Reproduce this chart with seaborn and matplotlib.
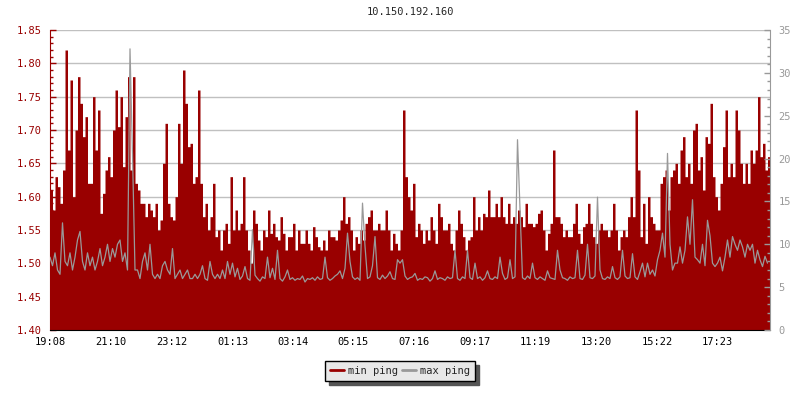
import numpy as np
import pandas as pd
import seaborn as sns
import matplotlib.pyplot as plt
from matplotlib.lines import Line2D
from matplotlib.ticker import MultipleLocator

sns.set_style("white")
plt.rcParams["font.family"] = ["DejaVu Sans Mono"]

title = "10.150.192.160"
start_time = "19:08"
step_minutes = 5
tick_labels = ["19:08", "21:10", "23:12", "01:13", "03:14", "05:15",
               "07:16", "09:17", "11:19", "13:20", "15:22", "17:23"]

# min ping (left axis), one sample every 5 minutes
min_ping = [
    1.61, 1.58, 1.63, 1.615, 1.59, 1.64, 1.82, 1.67, 1.775, 1.60,
    1.70, 1.78, 1.74, 1.69, 1.72, 1.62, 1.62, 1.75, 1.67, 1.73,
    1.575, 1.605, 1.64, 1.66, 1.63, 1.70, 1.76, 1.705, 1.75, 1.645,
    1.72, 1.78, 1.64, 1.78, 1.62, 1.61, 1.59, 1.59, 1.57, 1.59,
    1.58, 1.57, 1.59, 1.55, 1.565, 1.65, 1.71, 1.59, 1.57, 1.565,
    1.60, 1.71, 1.65, 1.79, 1.74, 1.675, 1.68, 1.62, 1.63, 1.76,
    1.62, 1.57, 1.59, 1.55, 1.57, 1.62, 1.54, 1.55, 1.52, 1.55,
    1.56, 1.53, 1.63, 1.55, 1.58, 1.55, 1.56, 1.63, 1.55, 1.52,
    1.50, 1.58, 1.56, 1.535, 1.52, 1.55, 1.54, 1.58, 1.545, 1.56,
    1.54, 1.535, 1.57, 1.545, 1.52, 1.54, 1.54, 1.56, 1.52, 1.55,
    1.53, 1.53, 1.55, 1.53, 1.52, 1.555, 1.54, 1.525, 1.52, 1.535,
    1.52, 1.55, 1.54, 1.54, 1.535, 1.55, 1.565, 1.60, 1.56, 1.57,
    1.55, 1.52, 1.54, 1.53, 1.55, 1.535, 1.56, 1.57, 1.58, 1.55,
    1.55, 1.56, 1.55, 1.55, 1.58, 1.55, 1.52, 1.545, 1.53, 1.52,
    1.55, 1.73, 1.63, 1.60, 1.58, 1.62, 1.54, 1.56, 1.55, 1.53,
    1.55, 1.535, 1.57, 1.55, 1.53, 1.59, 1.57, 1.55, 1.55, 1.56,
    1.53, 1.52, 1.55, 1.58, 1.56, 1.54, 1.52, 1.535, 1.54, 1.60,
    1.55, 1.57, 1.55, 1.575, 1.57, 1.61, 1.57, 1.57, 1.59, 1.57,
    1.60, 1.57, 1.56, 1.59, 1.56, 1.57, 1.56, 1.58, 1.57, 1.555,
    1.59, 1.56, 1.56, 1.555, 1.56, 1.575, 1.58, 1.55, 1.52, 1.545,
    1.56, 1.67, 1.57, 1.57, 1.56, 1.54, 1.55, 1.54, 1.54, 1.56,
    1.59, 1.545, 1.53, 1.555, 1.56, 1.59, 1.56, 1.54, 1.53, 1.55,
    1.56, 1.55, 1.55, 1.54, 1.55, 1.59, 1.55, 1.52, 1.54, 1.55,
    1.54, 1.57, 1.60, 1.57, 1.73, 1.64, 1.54, 1.59, 1.53, 1.60,
    1.57, 1.56, 1.55, 1.55, 1.62, 1.63, 1.64, 1.58, 1.63, 1.64,
    1.65, 1.62, 1.67, 1.69, 1.63, 1.65, 1.62, 1.70, 1.71, 1.64,
    1.66, 1.61, 1.69, 1.68, 1.74, 1.63, 1.60, 1.58, 1.62, 1.675,
    1.73, 1.63, 1.65, 1.63, 1.73, 1.70, 1.65, 1.62, 1.65, 1.62,
    1.67, 1.65, 1.67, 1.75, 1.66, 1.68, 1.64, 1.66,
]

# max ping (right axis)
max_ping = [
    8.5, 7.5, 9.0, 7.0, 6.5, 12.5, 8.0, 7.5, 9.0, 7.0,
    8.5, 10.5, 11.5, 8.0, 7.0, 9.0, 7.5, 8.5, 7.0, 8.0,
    9.5, 7.5, 8.5, 10.0, 8.0, 9.5, 8.5, 10.0, 10.5, 8.0,
    9.0, 7.0, 32.8, 20.5, 7.0, 7.0, 6.0, 8.0, 9.0, 7.0,
    10.0, 6.5, 6.0, 6.5, 6.0, 7.5, 8.0, 7.0, 6.5, 9.5,
    6.0, 6.5, 7.0, 6.0, 6.5, 7.0, 6.0, 6.0, 6.5, 6.0,
    6.5, 7.5, 6.0, 5.8, 8.0, 6.5, 6.0, 6.5, 6.0, 7.0,
    6.0, 8.0, 6.5, 7.8, 6.2, 7.2, 5.9, 6.3, 7.4, 6.0,
    5.8, 11.7, 6.4, 6.0, 5.7, 6.2, 6.0, 8.5, 6.1, 7.2,
    5.9, 9.3, 6.0, 5.7, 6.2, 7.0, 5.9, 6.1, 5.8, 6.0,
    5.9, 6.3, 5.6, 6.0, 5.9, 6.1, 5.8, 6.2, 5.9, 6.0,
    8.5, 6.1, 5.8, 6.0, 6.3, 6.5, 6.9, 6.0, 7.2, 11.3,
    8.0, 6.2, 5.9, 6.1, 5.8, 14.8, 9.8, 6.0, 6.2, 7.5,
    10.9, 6.1, 5.9, 6.4, 6.0, 6.3, 6.8, 6.0, 5.9, 8.2,
    7.8, 8.2, 6.3, 5.9, 6.1, 6.2, 6.6, 5.8, 6.0, 5.9,
    6.2, 6.1, 5.7, 6.0, 6.9, 5.9, 6.1, 6.0, 5.8, 6.2,
    6.0, 6.1, 9.3, 6.0, 5.8, 6.2, 6.0, 9.3, 6.1, 5.9,
    7.8, 6.0, 6.2, 5.8, 6.1, 6.9, 6.0, 5.9, 6.2, 6.0,
    8.5, 6.6, 5.9, 6.1, 8.2, 6.0, 6.2, 22.2, 14.0, 6.1,
    5.9, 6.3, 6.0, 7.8, 6.1, 5.9, 6.2, 6.0, 5.8, 6.9,
    6.1, 6.0, 5.9, 9.3, 7.0, 6.1, 6.0, 5.8, 6.2, 6.0,
    6.1, 9.3, 6.0, 5.9, 6.4, 10.0, 6.1, 6.0, 6.3, 15.5,
    7.0, 6.0, 5.9, 6.2, 6.0, 7.4, 6.1, 5.9, 6.2, 9.3,
    6.3, 6.0, 6.1, 8.9, 6.2, 5.9, 6.8, 7.8, 6.2, 7.8,
    6.5, 7.0, 6.3, 8.2, 9.3, 11.3, 8.5, 20.6, 10.0, 7.0,
    7.8, 7.8, 9.7, 7.8, 9.3, 13.2, 10.0, 15.2, 8.5, 8.2,
    7.8, 10.0, 7.5, 12.8, 11.0, 7.8, 7.4, 7.8, 8.5, 6.9,
    8.5, 10.5, 8.5, 10.9, 10.0, 9.3, 10.5, 9.7, 8.5, 10.0,
    9.3, 10.0, 7.8, 9.3, 8.2, 7.4, 8.6, 7.8,
]

RED = "#990000"
GRAY = "#999999"
FS = 7.5

df = pd.DataFrame({"minute": np.arange(len(min_ping)) * step_minutes,
                   "min_ping": min_ping, "max_ping": max_ping})
# repeat last sample so the red steps reach the right edge
last = df.iloc[[-1]].copy()
last["minute"] = len(min_ping) * step_minutes
df_fill = pd.concat([df, last], ignore_index=True)


def to_offset(label):
    h, m = map(int, label.split(":"))
    h0, m0 = map(int, start_time.split(":"))
    return (h * 60 + m - (h0 * 60 + m0)) % 1440


fig = plt.figure(figsize=(8, 4), dpi=100)
ax = fig.add_axes([50 / 800, 70 / 400, 720 / 800, 300 / 400])

ax.fill_between(df_fill["minute"], 1.40, df_fill["min_ping"], step="post", color=RED,
                linewidth=0)
ax.set_xlim(0, df_fill["minute"].max())
ax.set_ylim(1.40, 1.85)
ax.yaxis.set_major_locator(MultipleLocator(0.05))
ax.yaxis.set_minor_locator(MultipleLocator(0.01))
ax.set_yticklabels([f"{v:.2f}" for v in ax.get_yticks()])
ax.set_xticks([to_offset(t) for t in tick_labels])
ax.set_xticklabels(tick_labels)
ax.yaxis.grid(True, color="#c0c0c0", linewidth=1)
ax.xaxis.grid(False)
ax.set_axisbelow(True)
ax.tick_params(axis="y", which="major", direction="in", length=4, width=1,
               color=RED, labelcolor=RED, labelsize=FS, pad=6)
ax.tick_params(axis="y", which="minor", direction="in", length=2.5, width=1, color=RED)
ax.tick_params(axis="x", direction="in", length=4, width=1, color="black",
               labelcolor="black", labelsize=FS, pad=5)
ax.spines["left"].set_color(RED)
ax.spines["bottom"].set_color("black")
ax.spines["top"].set_visible(False)
ax.spines["right"].set_visible(False)
ax.set_xlabel("")
ax.set_ylabel("")

ax2 = ax.twinx()
sns.lineplot(data=df, x="minute", y="max_ping", color=GRAY, linewidth=0.9,
             estimator=None, ax=ax2)
ax2.set_xlim(ax.get_xlim())
ax2.set_ylim(0, 35)
ax2.yaxis.set_major_locator(MultipleLocator(5))
ax2.yaxis.set_minor_locator(MultipleLocator(1))
ax2.tick_params(axis="y", which="major", direction="in", length=4, width=1,
                color=GRAY, labelcolor=GRAY, labelsize=FS, pad=6)
ax2.tick_params(axis="y", which="minor", direction="in", length=2.5, width=1, color=GRAY)
for side in ["left", "top", "bottom"]:
    ax2.spines[side].set_visible(False)
ax2.spines["right"].set_color(GRAY)
ax2.set_xlabel("")
ax2.set_ylabel("")

ax.set_title(title, fontsize=FS, pad=11)

handles = [Line2D([], [], color=RED, linewidth=2), Line2D([], [], color=GRAY, linewidth=2)]
fig.legend(handles, ["min ping", "max ping"], loc="center", bbox_to_anchor=(0.5, 1 - 371 / 400),
           ncol=2, frameon=True, fancybox=False, edgecolor="black", facecolor="#e8e8e8",
           framealpha=1, shadow={"ox": 3, "oy": -3, "color": "#555555", "alpha": 1},
           handlelength=1.3, columnspacing=0.4, handletextpad=0.4, borderpad=0.5,
           fontsize=FS)

fig.savefig("out.png", dpi=100)
